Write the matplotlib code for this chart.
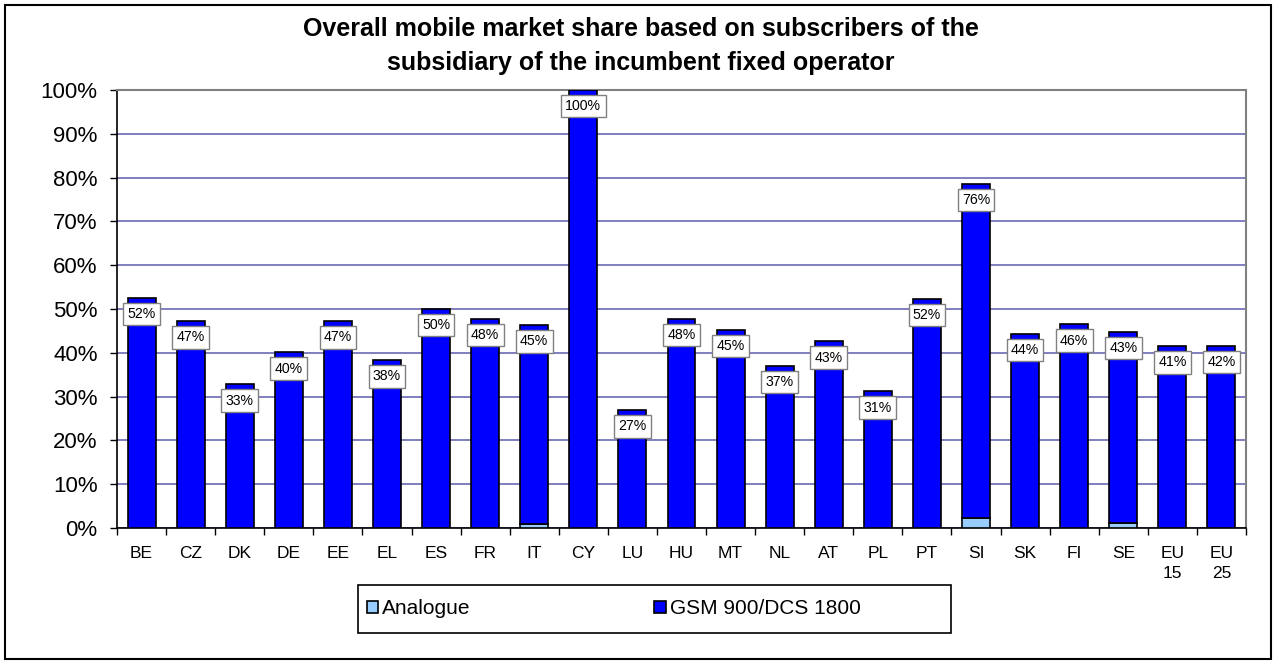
import numpy as np
import matplotlib.pyplot as plt
from matplotlib.patches import Rectangle

plt.rcParams['font.family'] = ['Liberation Sans', 'DejaVu Sans']

countries = ["BE", "CZ", "DK", "DE", "EE", "EL", "ES", "FR", "IT", "CY", "LU", "HU",
             "MT", "NL", "AT", "PL", "PT", "SI", "SK", "FI", "SE", "EU\n15", "EU\n25"]
analogue = [0, 0, 0, 0, 0, 0, 0, 0, 0.9, 0, 0, 0,
            0, 0, 0, 0, 0, 2.3, 0, 0, 1.2, 0, 0]
gsm = [52.6, 47.2, 32.8, 40.1, 47.2, 38.3, 50.0, 47.8, 45.4, 100.0, 26.9, 47.8,
       45.3, 37.0, 42.6, 31.2, 52.3, 76.3, 44.3, 46.5, 43.6, 41.5, 41.6]
labels = ["52%", "47%", "33%", "40%", "47%", "38%", "50%", "48%", "45%", "100%", "27%", "48%",
          "45%", "37%", "43%", "31%", "52%", "76%", "44%", "46%", "43%", "41%", "42%"]

W, H = 1276, 664
fig = plt.figure(figsize=(W / 100, H / 100), dpi=100)
ax = fig.add_axes([117 / W, 1 - 528 / H, (1246 - 117) / W, (528 - 90) / H])

x = np.arange(len(countries))
bw = 0.57
ax.bar(x, analogue, bw, color="#99ccff", edgecolor="black", linewidth=1.2, label="Analogue", zorder=3)
ax.bar(x, gsm, bw, bottom=analogue, color="#0000ff", edgecolor="black", linewidth=1.2,
       label="GSM 900/DCS 1800", zorder=3)

# data labels just under the top of each bar
for xi, a, g, lab in zip(x, analogue, gsm, labels):
    ax.text(xi, a + g - 3.7, lab, ha="center", va="center", fontsize=10.2, zorder=5,
            bbox=dict(boxstyle="square,pad=0.3", fc="white", ec="#808080", lw=1))

ax.set_xlim(-0.5, len(countries) - 0.5)
ax.set_ylim(0, 100)
ax.set_yticks(np.arange(0, 101, 10))
ax.set_yticklabels([f"{v}%" for v in range(0, 101, 10)], fontsize=16)
ax.yaxis.grid(True, color="#5c5cae", linewidth=1.1, zorder=0)
ax.set_axisbelow(True)

ax.set_xticks(x)
ax.set_xticklabels(countries, fontsize=12.5, linespacing=1.4)
ax.set_xticks(np.arange(-0.5, len(countries), 1), minor=True)
ax.tick_params(axis="x", which="major", length=0, pad=13)
ax.tick_params(axis="x", which="minor", length=5, width=1, color="black", direction="out")
ax.tick_params(axis="y", length=5, width=1, pad=9)

for s in ["top", "right"]:
    ax.spines[s].set_color("#808080")
    ax.spines[s].set_linewidth(1.5)
for s in ["left", "bottom"]:
    ax.spines[s].set_color("black")
    ax.spines[s].set_linewidth(1.2)

fig.text(0.502, 1 - 36 / H, "Overall mobile market share based on subscribers of the",
         ha="center", va="baseline", fontsize=18, fontweight="bold")
fig.text(0.502, 1 - 70 / H, "subsidiary of the incumbent fixed operator",
         ha="center", va="baseline", fontsize=18, fontweight="bold")

# legend box and entries
fig.patches.append(Rectangle((358 / W, 1 - 633 / H), 593 / W, 48 / H, transform=fig.transFigure,
                             fill=False, edgecolor="black", linewidth=1.2))
leg = fig.legend(loc="center left", bbox_to_anchor=(348 / W, 1 - 609 / H), ncol=2, frameon=False,
                 fontsize=15, handlelength=0.55, handleheight=0.55, handletextpad=0.2,
                 columnspacing=8.8)

# outer chart border
fig.patches.append(Rectangle((5 / W, 5 / H), (W - 10) / W, (H - 10) / H, transform=fig.transFigure,
                             fill=False, edgecolor="black", linewidth=1.5))

fig.savefig("out.png", dpi=100)
